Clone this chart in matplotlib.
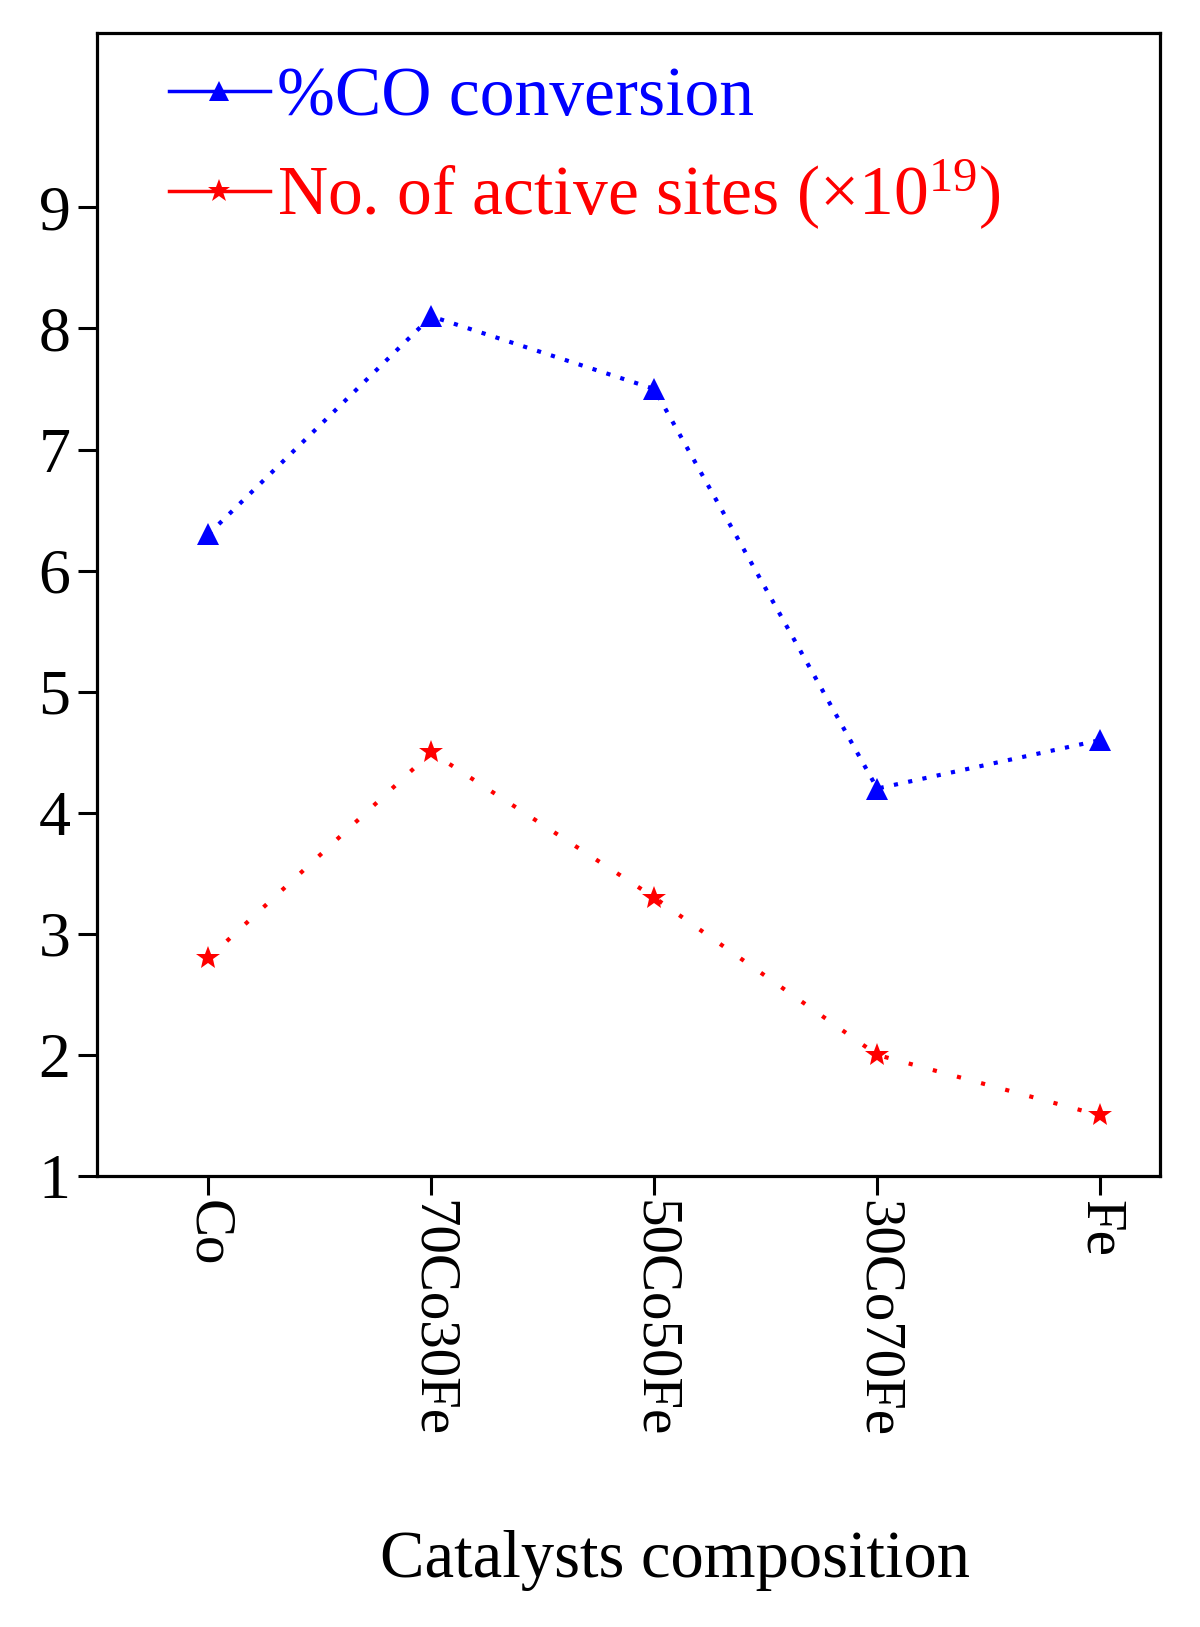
import matplotlib
matplotlib.use("Agg")
import matplotlib.pyplot as plt
from matplotlib.lines import Line2D

plt.rcParams['font.family'] = ['Liberation Serif', 'DejaVu Serif']
plt.rcParams['mathtext.fontset'] = 'custom'
plt.rcParams['mathtext.rm'] = 'Liberation Serif'
plt.rcParams['mathtext.it'] = 'Liberation Serif:italic'

categories = ["Co", "70Co30Fe", "50Co50Fe", "30Co70Fe", "Fe"]
co_conversion = [6.3, 8.1, 7.5, 4.2, 4.6]
active_sites = [2.8, 4.5, 3.3, 2.0, 1.5]
yticks = [1, 2, 3, 4, 5, 6, 7, 8, 9]

fig = plt.figure(figsize=(12, 16.27), dpi=100)
ax = fig.add_axes([0.0808, 0.2772, 0.8862, 0.7025])

x = list(range(len(categories)))
ax.plot(x, co_conversion, color='#0000ff', linestyle=(0, (1, 2.5)), linewidth=3,
        marker='^', markersize=16, markeredgewidth=0)
ax.plot(x, active_sites, color='#ff0000', linestyle=(0, (1, 5)), linewidth=3,
        marker='*', markersize=18, markeredgewidth=0)

ax.set_xlim(-0.5, 4.27)
ax.set_ylim(1, 10.44)
ax.set_yticks(yticks)
ax.set_yticklabels([str(v) for v in yticks], fontsize=46)
ax.set_xticks(x)
ax.set_xticklabels(categories, rotation=-90, fontsize=41, va='top', ha='center')

for s in ax.spines.values():
    s.set_linewidth(2.3)
ax.tick_params(axis='both', direction='out', length=14, width=2.2)
ax.tick_params(axis='y', pad=5)
ax.tick_params(axis='x', pad=3)

ax.set_xlabel("Catalysts composition", fontsize=48)
ax.xaxis.set_label_coords(0.544, -0.310)

handles = [
    Line2D([], [], color='#0000ff', linestyle='-', linewidth=2.5, marker='^',
           markersize=15, markeredgewidth=0),
    Line2D([], [], color='#ff0000', linestyle='-', linewidth=2.5, marker='*',
           markersize=17, markeredgewidth=0),
]
labels = ["%CO conversion", "No. of active sites (\u00d710$^{19}$)"]
leg = ax.legend(handles, labels, loc='center left', bbox_to_anchor=(0.0677, 0.898),
                frameon=False, fontsize=50, handlelength=1.45, handletextpad=0.1,
                labelspacing=0.40, borderpad=0, borderaxespad=0, labelcolor='linecolor')

fig.savefig("out.png", dpi=100, facecolor='white')
